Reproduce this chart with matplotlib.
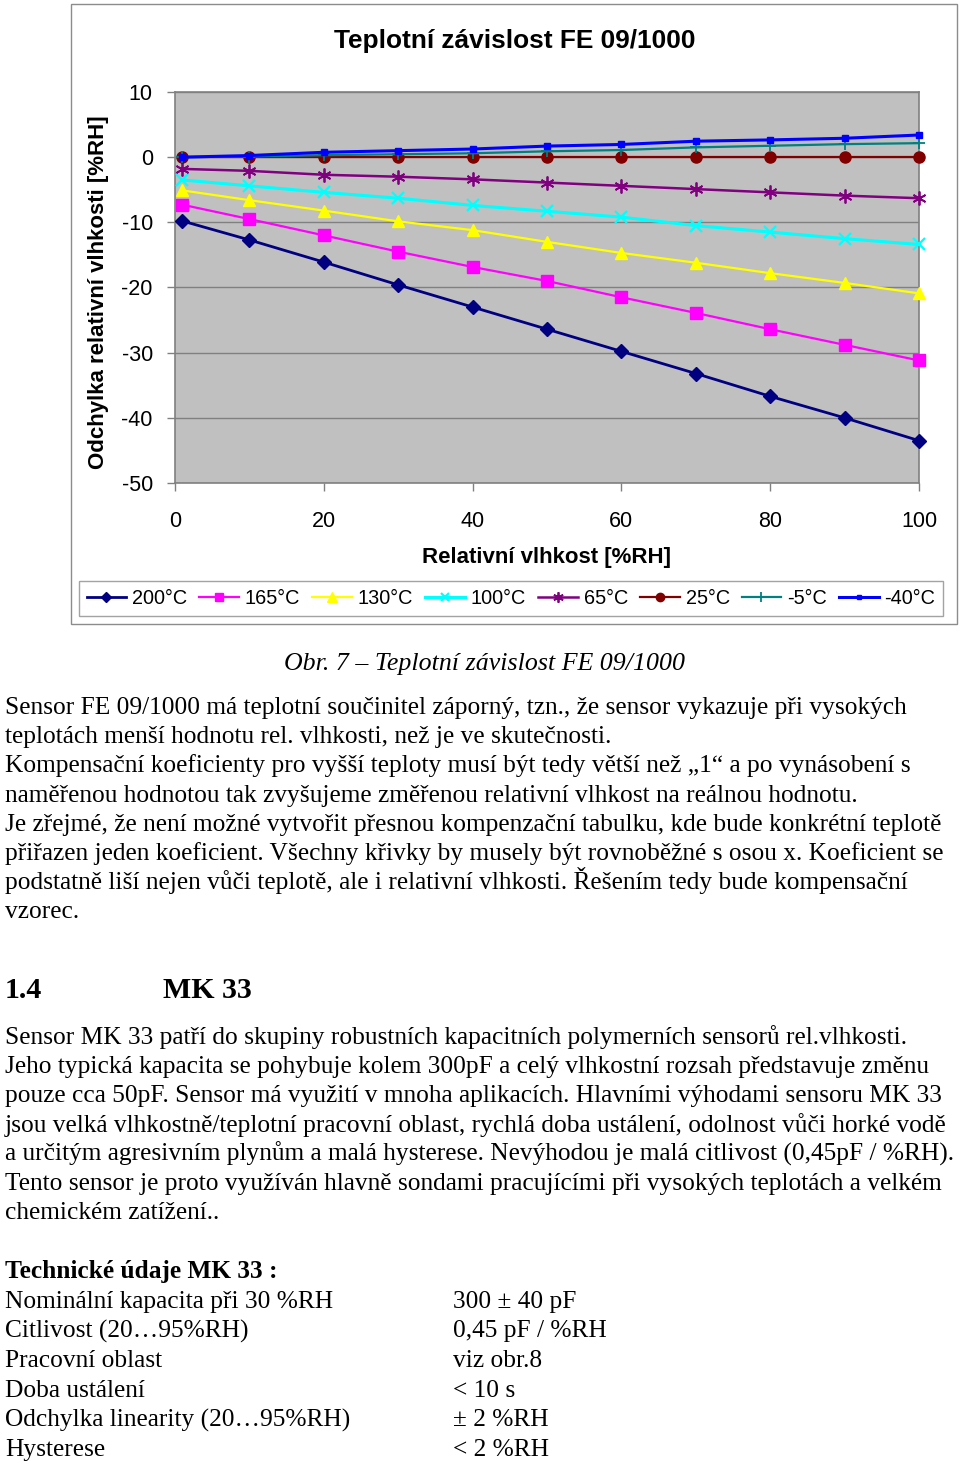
import matplotlib
matplotlib.use("Agg")
import matplotlib.pyplot as plt
from matplotlib.patches import Rectangle

plt.rcParams["axes.unicode_minus"] = False

# ---------------- data ----------------
rh = [1, 10, 20, 30, 40, 50, 60, 70, 80, 90, 100]
t200 = [-9.8, -12.7, -16.1, -19.6, -23.0, -26.4, -29.8, -33.2, -36.7, -40.0, -43.5]
t165 = [-7.3, -9.5, -12.0, -14.5, -16.85, -19.0, -21.5, -23.9, -26.4, -28.8, -31.2]
t130 = [-5.1, -6.6, -8.2, -9.85, -11.2, -13.0, -14.7, -16.2, -17.8, -19.3, -20.9]
t100 = [-3.5, -4.4, -5.4, -6.3, -7.4, -8.3, -9.2, -10.5, -11.5, -12.5, -13.4]
t65 = [-1.8, -2.1, -2.7, -3.0, -3.4, -3.9, -4.4, -4.9, -5.4, -5.9, -6.3]
t25 = [0, 0, 0, 0, 0, 0, 0, 0, 0, 0, 0]
tm5 = [0, 0.1, 0.3, 0.45, 0.6, 0.9, 1.1, 1.5, 1.75, 2.0, 2.15]
tm40 = [0, 0.25, 0.75, 1.0, 1.25, 1.7, 1.95, 2.45, 2.65, 2.9, 3.4]

series_labels = ["200°C", "165°C", "130°C", "100°C", "65°C", "25°C", "-5°C", "-40°C"]
x_ticks = [0, 20, 40, 60, 80, 100]
y_ticks = [-50, -40, -30, -20, -10, 0, 10]

chart_title = "Teplotní závislost FE 09/1000"
x_label = "Relativní vlhkost [%RH]"
y_label = "Odchylka relativní vlhkosti [%RH]"

caption = "Obr. 7 – Teplotní závislost FE 09/1000"
para1 = [
    "Sensor FE 09/1000 má teplotní součinitel záporný, tzn., že sensor vykazuje při vysokých",
    "teplotách menší hodnotu rel. vlhkosti, než je ve skutečnosti.",
    "Kompensační koeficienty pro vyšší teploty musí být tedy větší než „1“ a po vynásobení s",
    "naměřenou hodnotou tak zvyšujeme změřenou relativní vlhkost na reálnou hodnotu.",
    "Je zřejmé, že není možné vytvořit přesnou kompenzační tabulku, kde bude konkrétní teplotě",
    "přiřazen jeden koeficient. Všechny křivky by musely být rovnoběžné s osou x. Koeficient se",
    "podstatně liší nejen vůči teplotě, ale i relativní vlhkosti. Řešením tedy bude kompensační",
    "vzorec.",
]
heading_num = "1.4"
heading_txt = "MK 33"
para2 = [
    "Sensor MK 33 patří do skupiny robustních kapacitních polymerních sensorů rel.vlhkosti.",
    "Jeho typická kapacita se pohybuje kolem 300pF a celý vlhkostní rozsah představuje změnu",
    "pouze cca 50pF. Sensor má využití v mnoha aplikacích. Hlavními výhodami sensoru MK 33",
    "jsou velká vlhkostně/teplotní pracovní oblast, rychlá doba ustálení, odolnost vůči horké vodě",
    "a určitým agresivním plynům a malá hysterese. Nevýhodou je malá citlivost (0,45pF / %RH).",
    "Tento sensor je proto využíván hlavně sondami pracujícími při vysokých teplotách a velkém",
    "chemickém zatížení..",
]
tech_title = "Technické údaje MK 33 :"
tech_names = ["Nominální kapacita při 30 %RH", "Citlivost (20…95%RH)", "Pracovní oblast",
              "Doba ustálení", "Odchylka linearity (20…95%RH)", "Hysterese"]
tech_values = ["300 ± 40 pF", "0,45 pF / %RH", "viz obr.8", "< 10 s", "± 2 %RH", "< 2 %RH"]

# ---------------- figure ----------------
W, H = 960, 1464
fig = plt.figure(figsize=(W / 100, H / 100), dpi=100)
fig.patch.set_facecolor("white")

def fx(px):
    return px / W

def fy(py):
    return 1 - py / H

# outer chart border
fig.patches.append(Rectangle((fx(71), fy(624)), fx(957) - fx(71), fy(4) - fy(624),
                             transform=fig.transFigure, fill=False, edgecolor="#8c8c8c", lw=1.0))

ax = fig.add_axes([fx(175), fy(483), fx(919) - fx(175), fy(92) - fy(483)])
ax.set_facecolor("#C0C0C0")
ax.set_xlim(0, 100)
ax.set_ylim(-50, 10)
ax.set_xticks(x_ticks)
ax.set_yticks(y_ticks)
ax.yaxis.grid(True, color="#808080", lw=1.0)
ax.set_axisbelow(True)
for s in ax.spines.values():
    s.set_color("#808080")
    s.set_linewidth(1.2)
ax.tick_params(axis="both", direction="out", length=6, width=1, color="#808080",
               labelsize=15.5, labelcolor="black")
ax.tick_params(axis="y", pad=10)
ax.tick_params(axis="x", pad=14)
for lab in ax.get_xticklabels() + ax.get_yticklabels():
    lab.set_family("Liberation Sans")

styles = [
    (t200, "#000080", "D", 7.0, 2.0, 1.0),
    (t165, "#FF00FF", "s", 8.0, 1.6, 1.0),
    (t130, "#FFFF00", "^", 9.0, 1.6, 1.0),
    (t100, "#00FFFF", "x", 8.0, 2.2, 1.6),
    (t65, "#800080", (6, 2, 0), 10.0, 1.8, 1.3),
    (t25, "#800000", "o", 8.0, 1.6, 1.0),
    (tm5, "#008080", "+", 9.0, 1.6, 1.3),
    (tm40, "#0000FF", "s", 4.5, 2.2, 1.0),
]
handles = []
for (vals, col, mk, ms, lw, mew), lab in zip(styles, series_labels):
    h, = ax.plot(rh, vals, color=col, marker=mk, markersize=ms, lw=lw,
                 markeredgewidth=mew, markeredgecolor=col, markerfacecolor=col,
                 label=lab, clip_on=False, zorder=3)
    handles.append(h)

sans = "Liberation Sans"
fig.text(fx(514.5), fy(41), chart_title, ha="center", va="center", fontsize=18.9,
         fontweight="bold", family=sans)
fig.text(fx(546), fy(558), x_label, ha="center", va="center", fontsize=16,
         fontweight="bold", family=sans)
fig.text(fx(99), fy(292), y_label, ha="center", va="center", fontsize=16,
         fontweight="bold", family=sans, rotation=90)

leg = fig.legend(handles=handles, loc="center", bbox_to_anchor=(fx(511), fy(598.5)),
                 ncol=8, frameon=True, fancybox=False, edgecolor="#8c8c8c",
                 prop={"family": sans, "size": 14.3}, handlelength=2.0, handletextpad=0.3,
                 columnspacing=0.6, markerscale=0.75, borderpad=0.4)
leg.get_frame().set_linewidth(1.0)

# ---------------- document text ----------------
serif = "Liberation Serif"
fs = 18.3
fig.text(fx(484), fy(670), caption, ha="center", va="baseline", fontsize=18.6,
         style="italic", family=serif)

y0 = 714
for i, line in enumerate(para1):
    fig.text(fx(5), fy(y0 + i * 29.2), line, ha="left", va="baseline", fontsize=fs, family=serif)

fig.text(fx(5), fy(998), heading_num, ha="left", va="baseline", fontsize=21.5,
         fontweight="bold", family=serif)
fig.text(fx(163), fy(998), heading_txt, ha="left", va="baseline", fontsize=21.5,
         fontweight="bold", family=serif)

y1 = 1044
for i, line in enumerate(para2):
    fig.text(fx(5), fy(y1 + i * 29.2), line, ha="left", va="baseline", fontsize=fs, family=serif)

y2 = 1278
fig.text(fx(5), fy(y2), tech_title, ha="left", va="baseline", fontsize=fs,
         fontweight="bold", family=serif)
for i, (n, v) in enumerate(zip(tech_names, tech_values)):
    yy = y2 + (i + 1) * 29.7
    fig.text(fx(5), fy(yy), n, ha="left", va="baseline", fontsize=fs, family=serif)
    fig.text(fx(453), fy(yy), v, ha="left", va="baseline", fontsize=fs, family=serif)

fig.savefig("out.png", dpi=100, facecolor="white")
